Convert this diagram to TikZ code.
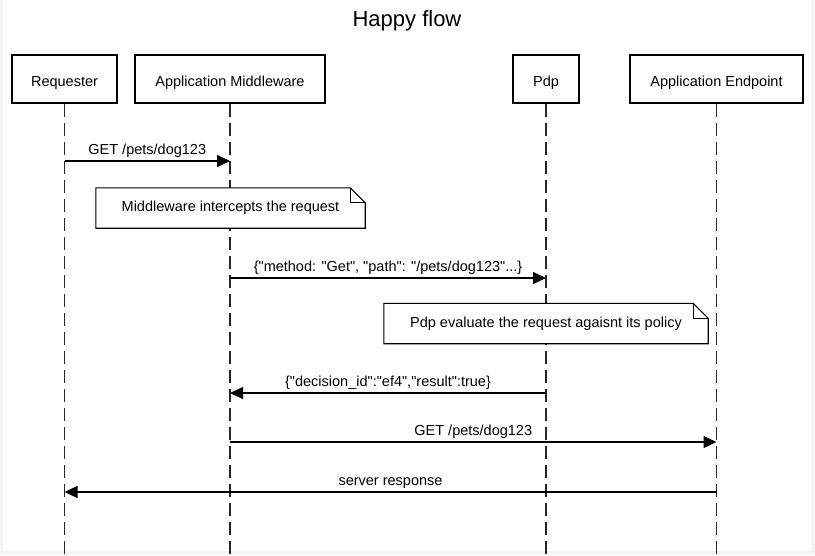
\documentclass[tikz,border=0pt]{standalone}
\usepackage{fontspec}
\setmainfont{Liberation Sans}[Ligatures=TeXOff]
\usetikzlibrary{arrows.meta}
\definecolor{edgegray}{HTML}{F4F4F4}
\tikzset{
  actor/.style={draw=black, line width=2.6pt, fill=white, inner sep=0pt,
    minimum height=48pt, font=\fontsize{14.5}{17}\selectfont,
    text height=14pt, text depth=0pt},
  lifeline/.style={draw=black!85, line width=1.5pt, dash pattern=on 13pt off 6pt},
  msg/.style={draw=black, line width=1.2pt, -{Triangle[length=13pt,width=12pt]}},
  lbl/.style={anchor=base, yshift=7pt, inner sep=0pt, font=\fontsize{14.5}{17}\selectfont},
  notetext/.style={inner sep=0pt, minimum height=40pt, font=\fontsize{14.5}{17}\selectfont,
    text height=10.5pt, text depth=3pt},
  noteline/.style={draw=black, line width=1.1pt, fill=white}
}
\begin{document}
\begin{tikzpicture}[x=1pt,y=-1pt]
\fill[edgegray] (0,0) rectangle (815,555);
\fill[white] (3,0) rectangle (810.5,550.5);
\useasboundingbox (0,0) rectangle (815,555);

\node[anchor=base, inner sep=0pt, font=\fontsize{22}{26}\selectfont] (title) at (407,26) {Happy flow};

\node[actor, minimum width=105pt] (req) at (64.5,79) {Requester};
\node[actor, minimum width=190pt] (mid) at (230,79) {Application Middleware};
\node[actor, minimum width=66pt] (pdp) at (546,79) {Pdp};
\node[actor, minimum width=173pt] (ep) at (716.5,79) {Application Endpoint};

\coordinate (reqend) at (64.5,555);
\coordinate (midend) at (230,555);
\coordinate (pdpend) at (546,555);
\coordinate (epend) at (716.5,555);

\draw[lifeline] (req.south) -- (reqend);
\draw[lifeline] (mid.south) -- (midend);
\draw[lifeline] (pdp.south) -- (pdpend);
\draw[lifeline] (ep.south) -- (epend);

% message 1
\draw[msg] (req |- 0,161) -- node[lbl] {GET /pets/dog123} (mid |- 0,161);

% note 1
\node[notetext, minimum width=269pt] (n1) at (230.5,208) {};
\draw[noteline] (n1.north west) -- ([xshift=-15pt]n1.north east) -- ([yshift=-15pt]n1.north east) -- (n1.south east) -- (n1.south west) -- cycle;
\draw[line width=1.1pt] ([xshift=-15pt]n1.north east) |- ([yshift=-15pt]n1.north east);
\node[notetext] (n1t) at (n1.center) {Middleware intercepts the request};

% message 2
\draw[msg] (mid |- 0,278) -- node[lbl] {\{"method: "Get", "path": "/pets/dog123"...\}} (pdp |- 0,278);

% note 2
\node[notetext, minimum width=324pt] (n2) at (546,323.5) {};
\draw[noteline] (n2.north west) -- ([xshift=-15pt]n2.north east) -- ([yshift=-15pt]n2.north east) -- (n2.south east) -- (n2.south west) -- cycle;
\draw[line width=1.1pt] ([xshift=-15pt]n2.north east) |- ([yshift=-15pt]n2.north east);
\node[notetext] (n2t) at (n2.center) {Pdp evaluate the request agaisnt its policy};

% message 3
\draw[msg] (pdp |- 0,393) -- node[lbl] {\{"decision\_id":"ef4","result":true\}} (mid |- 0,393);

% message 4
\draw[msg] (mid |- 0,442) -- node[lbl] {GET /pets/dog123} (ep |- 0,442);

% message 5
\draw[msg] (ep |- 0,492) -- node[lbl] {server response} (req |- 0,492);
\end{tikzpicture}
\end{document}
